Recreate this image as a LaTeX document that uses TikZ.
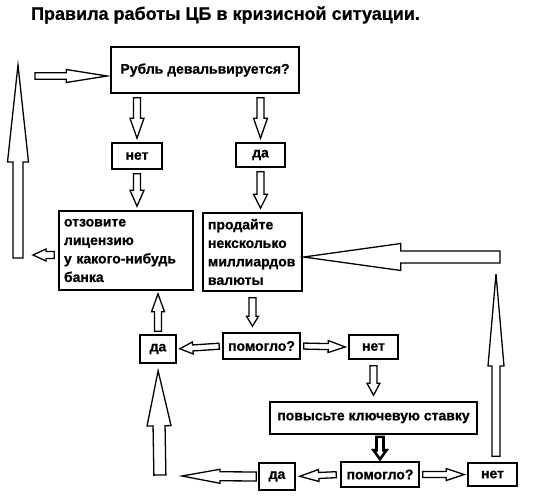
\documentclass[tikz,border=0pt]{standalone}
\usepackage{fontspec}
\setmainfont{Liberation Sans}[BoldFeatures={FakeBold=0.8}]
\usetikzlibrary{calc}
\newcommand{\hollowarrow}[6][4pt]{%
\coordinate (ha-s) at ($#2!#1!#3$);
\coordinate (ha-e) at ($#3!#1!#2$);
\coordinate (ha-b) at ($(ha-e)!#6!(ha-s)$);
\draw[arrline]($(ha-s)!#4!90:(ha-e)$)--($(ha-b)!#4!90:(ha-e)$)--($(ha-b)!#5!90:(ha-e)$)--(ha-e)
--($(ha-b)!#5!-90:(ha-e)$)--($(ha-b)!#4!-90:(ha-e)$)--($(ha-s)!#4!-90:(ha-e)$)--cycle;}

\begin{document}
\begin{tikzpicture}[x=1pt,y=-1pt,
box/.style={draw, line width=1.6pt, inner sep=0pt, font=\bfseries\fontsize{14}{18.5}\selectfont},
txtbox/.style={box, align=left, inner xsep=5pt},
arrline/.style={draw, fill=white, line width=1.3pt, line join=miter}]
\useasboundingbox (0,0) rectangle (550,496);
\node[font=\bfseries\fontsize{18}{21}\selectfont] (title) at (225.5,15) {Правила работы ЦБ в кризисной ситуации.};
\node[box, minimum width=188, minimum height=46] (rub) at (205,70) {Рубль девальвируется?};
\node[box, minimum width=50, minimum height=26] (net) at (137,156) {нет};
\node[box, minimum width=49, minimum height=24] (da) at (260.5,155) {да};
\node[txtbox, text width=124, minimum height=79] (otz) at (126,250.5) {отзовите\\лицензию\\у какого-нибудь\\банка};
\node[txtbox, text width=89, minimum height=78] (prod) at (252.5,252) {продайте\\нексколько\\миллиардов\\валюты};
\node[box, minimum width=36, minimum height=28] (da1) at (158,349) {да};
\node[box, minimum width=77, minimum height=26] (pom1) at (261.5,346) {помогло?};
\node[box, minimum width=49, minimum height=24] (net1) at (373.5,347) {нет};
\node[box, minimum width=207, minimum height=32] (pov) at (373.5,418) {повысьте ключевую ставку};
\node[box, minimum width=78, minimum height=25] (pom2) at (380,474.5) {помогло?};
\node[box, minimum width=36, minimum height=27] (da2) at (277,476.5) {да};
\node[box, minimum width=49, minimum height=23] (net2) at (492.5,474.5) {нет};
\coordinate (lftbot) at (18,258);
\coordinate (lfttop) at (18,65);
\coordinate (lftin) at (29,255);
\coordinate (topin) at (32,76);
\coordinate (rgtup) at (496,268);
\coordinate (rgtturn) at (501,257);
\coordinate (botlft) at (180,476);
\coordinate (botup) at (160,482);
\hollowarrow{(rub.south -| net)}{(net.north)}{3.5pt}{7pt}{20pt}
\hollowarrow{(rub.south -| da)}{(da.north)}{3.5pt}{7pt}{20pt}
\hollowarrow{(net.south)}{(otz.north -| net)}{3.5pt}{7pt}{16pt}
\hollowarrow{(da.south)}{(prod.north -| da)}{3.5pt}{7pt}{14pt}
\hollowarrow{(otz.west |- lftin)}{(lftin)}{3.5pt}{6pt}{13pt}
\hollowarrow[0pt]{(lftbot)}{(lfttop)}{5pt}{10.5pt}{97pt}
\hollowarrow[3pt]{(topin)}{(rub.west |- topin)}{3.3pt}{6.5pt}{41pt}
\hollowarrow[1pt]{(rgtturn)}{(prod.east |- rgtturn)}{6pt}{13.5pt}{97pt}
\hollowarrow[6pt]{(net2.north -| rgtup)}{(rgtup)}{4pt}{8pt}{92pt}
\hollowarrow[6pt]{(prod.south)}{(pom1.north -| prod.south)}{3.5pt}{6pt}{10pt}
\hollowarrow[3pt]{(pom1.west)}{(da1.east)}{3pt}{6pt}{13pt}
\hollowarrow[3pt]{(pom1.east)}{(net1.west)}{3pt}{6pt}{17pt}
\hollowarrow[6pt]{(net1.south)}{(pov.north -| net1)}{3.5pt}{6.5pt}{12pt}
\hollowarrow[3pt]{(da1.north)}{(otz.south -| da1)}{3.5pt}{6.5pt}{18pt}
{\tikzset{arrline/.append style={line width=2.6pt}}
\hollowarrow[2pt]{(pov.south -| pom2)}{(pom2.north)}{3.5pt}{6.5pt}{9pt}}
\hollowarrow[4pt]{(pom2.west)}{(da2.east)}{3pt}{6pt}{19pt}
\hollowarrow[3pt]{(pom2.east)}{(net2.west)}{3pt}{6pt}{18pt}
\hollowarrow[2pt]{(da2.west)}{(botlft)}{4.5pt}{7pt}{38pt}
\hollowarrow[7pt]{(botup)}{(da1.south)}{6pt}{12pt}{55pt}
\end{tikzpicture}
\end{document}
